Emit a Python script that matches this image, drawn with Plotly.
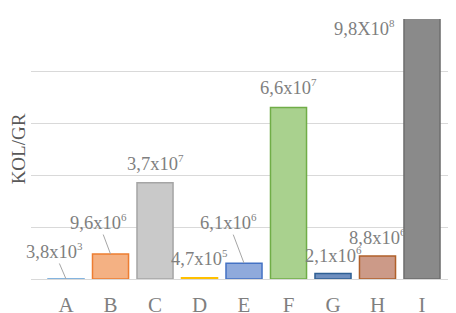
import plotly.graph_objects as go

categories = ["A", "B", "C", "D", "E", "F", "G", "H", "I"]
values = [3.8e3, 9.6e6, 3.7e7, 4.7e5, 6.1e6, 6.6e7, 2.1e6, 8.8e6, 9.8e8]
mantissas = ["3,8x10", "9,6x10", "3,7x10", "4,7x10", "6,1x10",
             "6,6x10", "2,1x10", "8,8x10", "9,8X10"]
exponents = ["3", "6", "7", "5", "6", "7", "6", "6", "8"]
y_max = 1e8
y_step = 2e7

line_colors = ["#5b9bd5", "#ed7d31", "#a5a5a5", "#ffc000", "#4472c4",
               "#70ad47", "#2f5f94", "#b0602a", "#6e6e6e"]
fill_colors = ["#9dc3e6", "#f4b183", "#c9c9c9", "#ffd966", "#8faadc",
               "#a9d18e", "#6f8fbf", "#cc9a88", "#8a8a8a"]

# label placement offsets in pixels (dx, dy: screen, dy positive = down)
label_dx = [-12, -12, 0, 0, -15.5, 0, 0, 0, -58]
label_dy = [-28, -32, -20, -20, -41, -20, -18.5, -19, 9]
leader = [True, True, False, False, True, False, False, False, False]

FONT = "Liberation Serif, Times New Roman, serif"
TXT = "#7f7f7f"

fig = go.Figure()
fig.add_trace(go.Bar(
    x=categories, y=values, width=0.81,
    marker=dict(color=fill_colors, line=dict(color=line_colors, width=1.5)),
    showlegend=False, hoverinfo="x+y",
))

for c, v, m, e, dx, dy, ld in zip(categories, values, mantissas, exponents,
                                  label_dx, label_dy, leader):
    yv = min(v, y_max)
    t = m + '<sup><span style="font-size:11px">' + e + '</span></sup>'
    if ld:
        fig.add_annotation(x=c, y=yv, text=t, showarrow=True, arrowhead=0,
                           arrowwidth=1, arrowcolor="#a6a6a6", ax=dx, ay=dy,
                           standoff=0, font=dict(family=FONT, size=18.5, color=TXT))
    else:
        fig.add_annotation(x=c, y=yv, text=t, showarrow=False,
                           xshift=dx, yshift=-dy,
                           font=dict(family=FONT, size=18.5, color=TXT))

fig.update_layout(
    width=448, height=305,
    margin=dict(l=23, r=0, t=11, b=34, autoexpand=False),
    plot_bgcolor="white", paper_bgcolor="white",
    font=dict(family=FONT, color=TXT),
)
fig.update_xaxes(
    type="category", range=[-0.787, 8.764], automargin=False,
    showgrid=False, showline=False, ticks="",
    tickfont=dict(family=FONT, size=21, color=TXT),
    ticklabelstandoff=11,
)
fig.update_yaxes(
    range=[0, y_max], dtick=y_step, showticklabels=False, automargin=False,
    showgrid=True, gridcolor="#d9d9d9", gridwidth=1.3,
    zeroline=True, zerolinecolor="#d9d9d9", zerolinewidth=1.3,
    title=dict(text="KOL/GR", font=dict(family=FONT, size=19, color="#595959"), standoff=0),
)

fig.write_html("out.html")
